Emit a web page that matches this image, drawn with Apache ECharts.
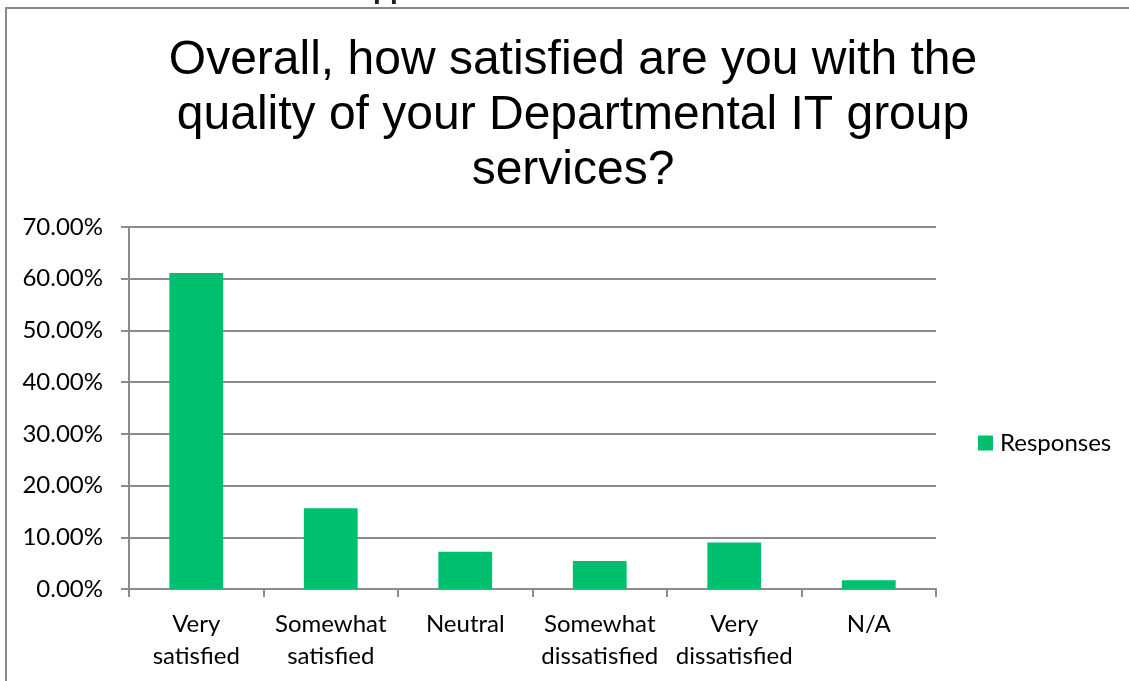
<!DOCTYPE html>
<html>
<head>
<meta charset="utf-8">
<script src="https://cdn.jsdelivr.net/npm/echarts@6/dist/echarts.min.js"></script>
<style>
  html, body { margin: 0; padding: 0; background: #ffffff; }
  #chart { width: 1129px; height: 681px; }
</style>
</head>
<body>
<div id="chart"></div>
<script>
// Survey answers and share of responses (percent)
const categories = [
  'Very\nsatisfied',
  'Somewhat\nsatisfied',
  'Neutral',
  'Somewhat\ndissatisfied',
  'Very\ndissatisfied',
  'N/A'
];
const responses = [61.1, 15.6, 7.2, 5.4, 9.0, 1.7];
const seriesName = 'Responses';
const titleLines = [
  'Overall, how satisfied are you with the',
  'quality of your Departmental IT group',
  'services?'
];

const axisGrey = '#8c8c8c';
const barGreen = '#00bf6f';
const labelFont = 'Lato';

const chart = echarts.init(document.getElementById('chart'), null, { renderer: 'canvas' });

chart.setOption({
  animation: false,
  backgroundColor: '#ffffff',
  graphic: [
    {
      // frame around the chart area
      type: 'polyline',
      shape: { points: [[6, 681], [6, 8], [1129, 8]] },
      style: { stroke: '#8a8a8a', lineWidth: 2, fill: null },
      silent: true
    },
    {
      // tail of the page heading above the frame
      type: 'text',
      x: 373,
      y: -24,
      style: {
        text: 'pp',
        font: 'bold 28px "Liberation Sans", Arial, sans-serif',
        fill: '#222222',
        textVerticalAlign: 'top'
      },
      silent: true
    },
    {
      type: 'text',
      x: 573,
      y: 33,
      style: {
        text: titleLines.join('\n'),
        font: '48px "Liberation Sans", Arial, sans-serif',
        lineHeight: 55,
        fill: '#000000',
        align: 'center',
        verticalAlign: 'top'
      },
      silent: true
    }
  ],
  legend: {
    orient: 'vertical',
    left: 978,
    top: 431,
    padding: 0,
    itemWidth: 15,
    itemHeight: 15,
    itemGap: 8,
    icon: 'rect',
    textStyle: { fontFamily: labelFont, fontSize: 24, color: '#000000', padding: [0, 0, 0, 2] },
    data: [seriesName]
  },
  grid: {
    left: 129,
    right: 193,
    top: 227,
    bottom: 92,
    containLabel: false
  },
  xAxis: {
    type: 'category',
    data: categories,
    boundaryGap: true,
    axisLine: { show: true, lineStyle: { color: axisGrey, width: 2 } },
    axisTick: { show: true, length: 8, lineStyle: { color: axisGrey, width: 2 } },
    axisLabel: {
      interval: 0,
      margin: 19,
      color: '#000000',
      fontFamily: labelFont,
      fontSize: 24,
      lineHeight: 32
    },
    splitLine: { show: false }
  },
  yAxis: {
    type: 'value',
    min: 0,
    max: 70,
    interval: 10,
    axisLine: { show: true, lineStyle: { color: axisGrey, width: 2 } },
    axisTick: { show: true, length: 8, lineStyle: { color: axisGrey, width: 2 } },
    axisLabel: {
      margin: 26,
      color: '#000000',
      fontFamily: labelFont,
      fontSize: 24,
      formatter: function (v) { return v.toFixed(2) + '%'; }
    },
    splitLine: { show: true, lineStyle: { color: axisGrey, width: 2 } }
  },
  series: [
    {
      name: seriesName,
      type: 'bar',
      data: responses,
      barCategoryGap: '60%',
      itemStyle: { color: barGreen }
    }
  ]
});
</script>
</body>
</html>
